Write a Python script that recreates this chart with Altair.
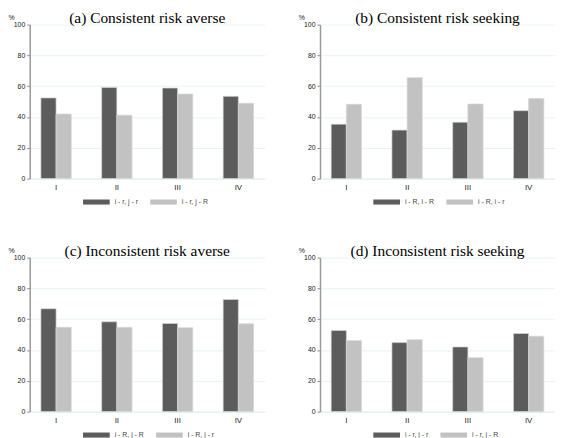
import altair as alt
import pandas as pd

categories = ["I", "II", "III", "IV"]

a_title = "(a) Consistent risk averse"
a_series = ["i - r, j - r", "i - r, j - R"]
a_dark = [52.4, 59.2, 58.8, 53.4]
a_light = [41.9, 41.2, 54.9, 48.9]

b_title = "(b) Consistent risk seeking"
b_series = ["i - R, i - R", "i - R, i - r"]
b_dark = [35.3, 31.5, 36.6, 44.1]
b_light = [48.2, 65.5, 48.4, 52.0]

c_title = "(c) Inconsistent risk averse"
c_series = ["i - R, j - R", "i - R, j - r"]
c_dark = [66.8, 58.3, 57.2, 72.8]
c_light = [54.7, 54.7, 54.5, 57.0]

d_title = "(d) Inconsistent risk seeking"
d_series = ["i - r, j - r", "i - r, j - R"]
d_dark = [52.7, 44.8, 42.0, 50.7]
d_light = [46.1, 46.7, 35.0, 49.0]

DARK = "#5c5c5c"
LIGHT = "#c2c2c2"
SYMBOL = "M-1,-0.19L1,-0.19L1,0.19L-1,0.19Z"
W = 238
H = 156


def panel(title, series, dark, light):
    rows = []
    for c, v in zip(categories, dark):
        rows.append({"cat": c, "series": series[0], "value": v})
    for c, v in zip(categories, light):
        rows.append({"cat": c, "series": series[1], "value": v})
    df = pd.DataFrame(rows)
    return (
        alt.Chart(df)
        .mark_bar(stroke="#d6d6d6", strokeWidth=0.7)
        .encode(
            x=alt.X(
                "cat:N",
                sort=categories,
                scale=alt.Scale(paddingInner=0.5, paddingOuter=0.184),
                axis=alt.Axis(
                    title=None,
                    labelAngle=0,
                    ticks=False,
                    domainColor="#e4eeee",
                    domainWidth=1,
                    labelFont="Liberation Sans",
                    labelFontSize=8,
                    labelColor="#222222",
                    labelPadding=5,
                ),
            ),
            xOffset=alt.XOffset("series:N", sort=series),
            y=alt.Y(
                "value:Q",
                scale=alt.Scale(domain=[0, 100]),
                axis=alt.Axis(
                    values=[0, 20, 40, 60, 80, 100],
                    title="%",
                    titleAngle=0,
                    titleX=-22,
                    titleY=-7,
                    titleAlign="left",
                    titleBaseline="middle",
                    titleFont="Liberation Sans",
                    titleFontSize=7,
                    titleFontWeight="normal",
                    titleColor="#222222",
                    labelFont="Liberation Sans",
                    labelFontSize=7,
                    labelColor="#222222",
                    labelPadding=2,
                    tickSize=3,
                    tickColor="#888888",
                    domainColor="#999999",
                    domainWidth=1.5,
                    grid=True,
                    gridColor="#e2efef",
                    gridWidth=0.8,
                ),
            ),
            color=alt.Color(
                "series:N",
                scale=alt.Scale(domain=series, range=[DARK, LIGHT]),
                legend=alt.Legend(
                    title=None,
                    orient="none",
                    legendX=54,
                    legendY=H + 10,
                    direction="horizontal",
                    symbolType=SYMBOL,
                    symbolSize=729,
                    symbolStrokeWidth=0,
                    labelFont="Liberation Sans",
                    labelFontSize=7,
                    labelColor="#444444",
                    labelOffset=5,
                    columnPadding=12,
                    padding=0,
                ),
            ),
        )
        .properties(
            width=W,
            height=H,
            title=alt.TitleParams(
                title,
                font="Liberation Serif",
                fontSize=15.6,
                fontWeight="normal",
                color="#000000",
                anchor="middle",
                offset=-13,
            ),
        )
    )


pa = panel(a_title, a_series, a_dark, a_light)
pb = panel(b_title, b_series, b_dark, b_light)
pc = panel(c_title, c_series, c_dark, c_light)
pd_ = panel(d_title, d_series, d_dark, d_light)

top = alt.hconcat(pa, pb, spacing=34).resolve_scale(color="independent", x="independent", xOffset="independent")
bottom = alt.hconcat(pc, pd_, spacing=34).resolve_scale(color="independent", x="independent", xOffset="independent")

chart = (
    alt.vconcat(top, bottom, spacing=39)
    .resolve_scale(color="independent", x="independent", xOffset="independent")
    .properties(padding=0, background="white")
    .configure_view(stroke=None)
)

chart.save("out.html", embed_options={"renderer": "svg", "actions": False})
